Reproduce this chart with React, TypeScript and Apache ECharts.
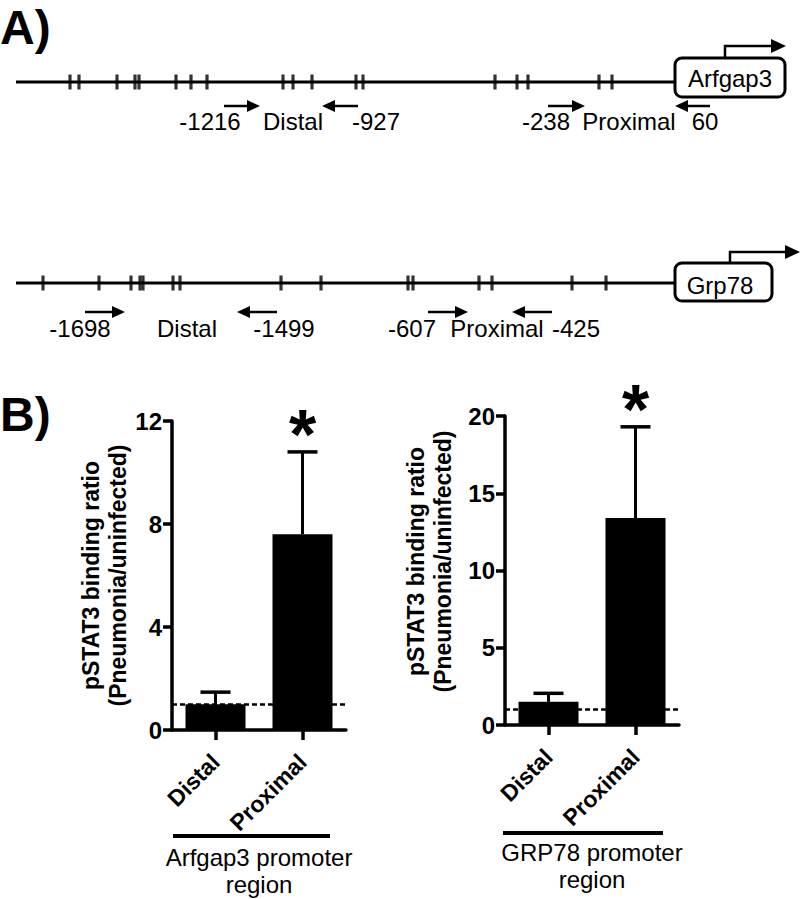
import React, { useEffect, useRef } from 'react';
import * as echarts from 'echarts';

const FONT = '"Liberation Sans", Arial, Helvetica, sans-serif';

// ---------- Panel A: promoter schematics (schematic position units) ----------
const arfgapBackbone = [16, 675];
const arfgapSites = [70, 79, 117, 135, 139, 176, 191, 207, 283, 293, 312, 356, 363, 495, 517, 528, 599, 612];
const arfgapPrimerLabels = ['-1216', '-927', '-238', '60'];
const arfgapPrimerTail = [224, 358, 548, 710];
const arfgapPrimerTip = [260, 322, 585, 675];
const arfgapPrimerLabelPos = [210, 376, 546, 705];
const arfgapRegionLabels = ['Distal', 'Proximal'];
const arfgapRegionLabelPos = [293, 629];
const arfgapGene = 'Arfgap3';

const grpBackbone = [16, 675];
const grpSites = [43, 99, 131, 140, 143, 173, 180, 281, 321, 408, 413, 479, 492, 572, 606];
const grpPrimerLabels = ['-1698', '-1499', '-607', '-425'];
const grpPrimerTail = [85, 277, 428, 552];
const grpPrimerTip = [125, 237, 468, 512];
const grpPrimerLabelPos = [80, 284, 412, 576];
const grpRegionLabels = ['Distal', 'Proximal'];
const grpRegionLabelPos = [187, 497];
const grpGene = 'Grp78';

// ---------- Panel B: ChIP binding ratios ----------
const regions = ['Distal', 'Proximal'];
const arfgapRatio = [1.0, 7.6];
const arfgapSem = [0.47, 3.2];
const grpRatio = [1.5, 13.4];
const grpSem = [0.55, 5.9];
const significance = ['', '*'];
const arfgapTickMax = 12;
const arfgapTickStep = 4;
const grpTickMax = 20;
const grpTickStep = 5;
const baselineRatio = 1;
const yTitle = 'pSTAT3 binding ratio\n(Pneumonia/uninfected)';
const arfgapXTitle = 'Arfgap3 promoter\nregion';
const grpXTitle = 'GRP78 promoter\nregion';

// ---------- layout / style constants ----------
const layoutA = {
  top: { arrowY: -0.8, labelY: -1.333, box: { dy: -24, h: 39, w: 110, tx: 55, ty: -4, tssX: 50, tssTop: -36, tssEnd: 111 } },
  bottom: { arrowY: -0.967, labelY: -1.533, box: { dy: -20, h: 38, w: 97, tx: 45, ty: 2, tssX: 55, tssTop: -31, tssEnd: 125 } },
};

function primerRender(tails: number[], tips: number[], labels: string[], labelPos: number[], arrowY: number, labelY: number) {
  return (params: any, api: any) => {
    const i = params.dataIndex;
    const a = api.coord([tails[i], arrowY]);
    const b = api.coord([tips[i], arrowY]);
    const dir = b[0] > a[0] ? 1 : -1;
    const head = 13;
    const half = 6;
    const l = api.coord([labelPos[i], labelY]);
    return {
      type: 'group',
      children: [
        { type: 'line', shape: { x1: a[0], y1: a[1], x2: b[0] - dir * head, y2: b[1] }, style: { stroke: '#000', lineWidth: 2.5 } },
        { type: 'polygon', shape: { points: [[b[0], b[1]], [b[0] - dir * head, b[1] - half], [b[0] - dir * head, b[1] + half]] }, style: { fill: '#000' } },
        { type: 'text', x: l[0], y: l[1], style: { text: labels[i], fontSize: 24, fontFamily: FONT, align: 'center', verticalAlign: 'middle', fill: '#000' } },
      ],
    };
  };
}

function regionRender(labels: string[], pos: number[], labelY: number) {
  return (params: any, api: any) => {
    const i = params.dataIndex;
    const p = api.coord([pos[i], labelY]);
    return { type: 'text', x: p[0], y: p[1], style: { text: labels[i], fontSize: 24, fontFamily: FONT, align: 'center', verticalAlign: 'middle', fill: '#000' } };
  };
}

function geneRender(name: string, box: any) {
  return (params: any, api: any) => {
    const p = api.coord([api.value(0), 0]);
    const x0 = p[0];
    const y0 = p[1] + box.dy;
    const tssY = p[1] + box.tssTop;
    const tx = x0 + box.tssX;
    const tipX = x0 + box.tssEnd;
    return {
      type: 'group',
      children: [
        { type: 'rect', shape: { x: x0, y: y0, width: box.w, height: box.h, r: 7 }, style: { fill: '#fff', stroke: '#000', lineWidth: 3 } },
        { type: 'text', x: x0 + box.tx, y: p[1] + box.ty, style: { text: name, fontSize: 24, fontFamily: FONT, align: 'center', verticalAlign: 'middle', fill: '#000' } },
        { type: 'polyline', shape: { points: [[tx, y0], [tx, tssY], [tipX - 14, tssY]] }, style: { stroke: '#000', lineWidth: 2.5, fill: null } },
        { type: 'polygon', shape: { points: [[tipX, tssY], [tipX - 15, tssY - 7], [tipX - 15, tssY + 7]] }, style: { fill: '#000' } },
      ],
    };
  };
}

function errRender(means: number[], sems: number[], sig: string[]) {
  return (params: any, api: any) => {
    const i = params.dataIndex;
    const base = api.coord([i, means[i]]);
    const top = api.coord([i, means[i] + sems[i]]);
    const children: any[] = [
      { type: 'line', shape: { x1: base[0], y1: base[1], x2: top[0], y2: top[1] }, style: { stroke: '#000', lineWidth: 3 } },
      { type: 'line', shape: { x1: top[0] - 15, y1: top[1], x2: top[0] + 15, y2: top[1] }, style: { stroke: '#000', lineWidth: 3.5 } },
    ];
    if (sig[i]) {
      children.push({ type: 'text', x: top[0], y: top[1] - 17, style: { text: sig[i], fontSize: 70, fontWeight: 'bold', fontFamily: FONT, align: 'center', verticalAlign: 'middle', fill: '#000' } });
    }
    return { type: 'group', children };
  };
}

function diagramSeries(idx: number, backbone: number[], sites: number[], tails: number[], tips: number[], labels: string[], labelPos: number[], regLabels: string[], regPos: number[], gene: string, lay: any) {
  return [
    { type: 'line', xAxisIndex: idx, yAxisIndex: idx, data: backbone.map((x) => [x, 0]), showSymbol: false, symbol: 'none', lineStyle: { color: '#000', width: 3 }, silent: true },
    { type: 'scatter', xAxisIndex: idx, yAxisIndex: idx, data: sites.map((x) => [x, 0]), symbol: 'rect', symbolSize: [3.2, 15], itemStyle: { color: '#000' }, silent: true },
    { type: 'custom', xAxisIndex: idx, yAxisIndex: idx, data: tails.map((t, i) => [t, tips[i]]), renderItem: primerRender(tails, tips, labels, labelPos, lay.arrowY, lay.labelY), silent: true },
    { type: 'custom', xAxisIndex: idx, yAxisIndex: idx, data: regPos.map((x) => [x, lay.labelY]), renderItem: regionRender(regLabels, regPos, lay.labelY), silent: true },
    { type: 'custom', xAxisIndex: idx, yAxisIndex: idx, data: [[backbone[1], 0]], renderItem: geneRender(gene, lay.box), silent: true, z: 5 },
  ];
}

function barAxes(gridIndex: number, max: number, step: number, xTitle: string, nameGapY: number, namePad: number[]) {
  const x = {
    gridIndex, type: 'category', data: regions,
    axisLine: { show: true, lineStyle: { color: '#000', width: 3.5 } },
    axisTick: { show: true, alignWithLabel: true, length: 10, lineStyle: { color: '#000', width: 3.5 } },
    axisLabel: { rotate: 45, interval: 0, fontWeight: 'bold', fontSize: 23, fontFamily: FONT, color: '#000', margin: 28 },
    name: xTitle, nameLocation: 'middle', nameGap: 114,
    nameTextStyle: { fontSize: 24, lineHeight: 27, fontFamily: FONT, color: '#000' },
  };
  const y = {
    gridIndex, type: 'value', min: 0, max, interval: step,
    axisLine: { show: true, lineStyle: { color: '#000', width: 3.5 } },
    axisTick: { show: true, length: 9, lineStyle: { color: '#000', width: 3.5 } },
    axisLabel: { fontWeight: 'bold', fontSize: 24, fontFamily: FONT, color: '#000', margin: 10 },
    splitLine: { show: false },
    name: yTitle, nameLocation: 'middle', nameRotate: 90, nameGap: nameGapY,
    nameTextStyle: { fontWeight: 'bold', fontSize: 23, lineHeight: 27, fontFamily: FONT, color: '#000', padding: namePad },
  };
  return { x, y };
}

function barSeries(idx: number, means: number[], sems: number[]) {
  return [
    {
      type: 'bar', xAxisIndex: idx, yAxisIndex: idx, data: means, barWidth: 60, itemStyle: { color: '#000' }, silent: true,
      markLine: { silent: true, symbol: 'none', label: { show: false }, lineStyle: { type: [5, 3], width: 2.5, color: '#000' }, data: [{ yAxis: baselineRatio }] },
    },
    { type: 'custom', xAxisIndex: idx, yAxisIndex: idx, data: means.map((m, i) => [i, m + sems[i]]), renderItem: errRender(means, sems, significance), silent: true, z: 3 },
  ];
}

export default function App() {
  const ref = useRef<HTMLDivElement>(null);
  useEffect(() => {
    if (!ref.current) return;
    const chart = echarts.init(ref.current, undefined, { renderer: 'svg' });
    const a1 = barAxes(2, arfgapTickMax, arfgapTickStep, arfgapXTitle, 41, [0, 0, 0, 0]);
    const a2 = barAxes(3, grpTickMax, grpTickStep, grpXTitle, 49, [0, 0, 0, 18]);
    const hiddenX = (g: number) => ({ gridIndex: g, type: 'value', min: 0, max: 800, show: false });
    const hiddenY = (g: number) => ({ gridIndex: g, type: 'value', min: -2, max: 2, show: false });
    chart.setOption({
      animation: false,
      backgroundColor: '#fff',
      grid: [
        { left: 0, top: 22, width: 800, height: 120 },
        { left: 0, top: 223, width: 800, height: 120 },
        { left: 172, top: 421, width: 174, height: 311 },
        { left: 505, top: 416, width: 174, height: 309 },
      ],
      xAxis: [hiddenX(0), hiddenX(1), a1.x, a2.x],
      yAxis: [hiddenY(0), hiddenY(1), a1.y, a2.y],
      series: [
        ...diagramSeries(0, arfgapBackbone, arfgapSites, arfgapPrimerTail, arfgapPrimerTip, arfgapPrimerLabels, arfgapPrimerLabelPos, arfgapRegionLabels, arfgapRegionLabelPos, arfgapGene, layoutA.top),
        ...diagramSeries(1, grpBackbone, grpSites, grpPrimerTail, grpPrimerTip, grpPrimerLabels, grpPrimerLabelPos, grpRegionLabels, grpRegionLabelPos, grpGene, layoutA.bottom),
        ...barSeries(2, arfgapRatio, arfgapSem),
        ...barSeries(3, grpRatio, grpSem),
      ],
      graphic: [
        { type: 'text', left: 0, top: 3, style: { text: 'A)', fontSize: 48, fontWeight: 'bold', fontFamily: FONT, fill: '#000' } },
        { type: 'text', left: 0, top: 390, style: { text: 'B)', fontSize: 48, fontWeight: 'bold', fontFamily: FONT, fill: '#000' } },
        { type: 'line', shape: { x1: 173, y1: 836, x2: 330, y2: 836 }, style: { stroke: '#000', lineWidth: 4 } },
        { type: 'line', shape: { x1: 503, y1: 833, x2: 663, y2: 833 }, style: { stroke: '#000', lineWidth: 4 } },
      ],
    });
    return () => chart.dispose();
  }, []);
  return <div ref={ref} style={{ position: 'absolute', left: 0, top: 0, width: 800, height: 899 }} />;
}
